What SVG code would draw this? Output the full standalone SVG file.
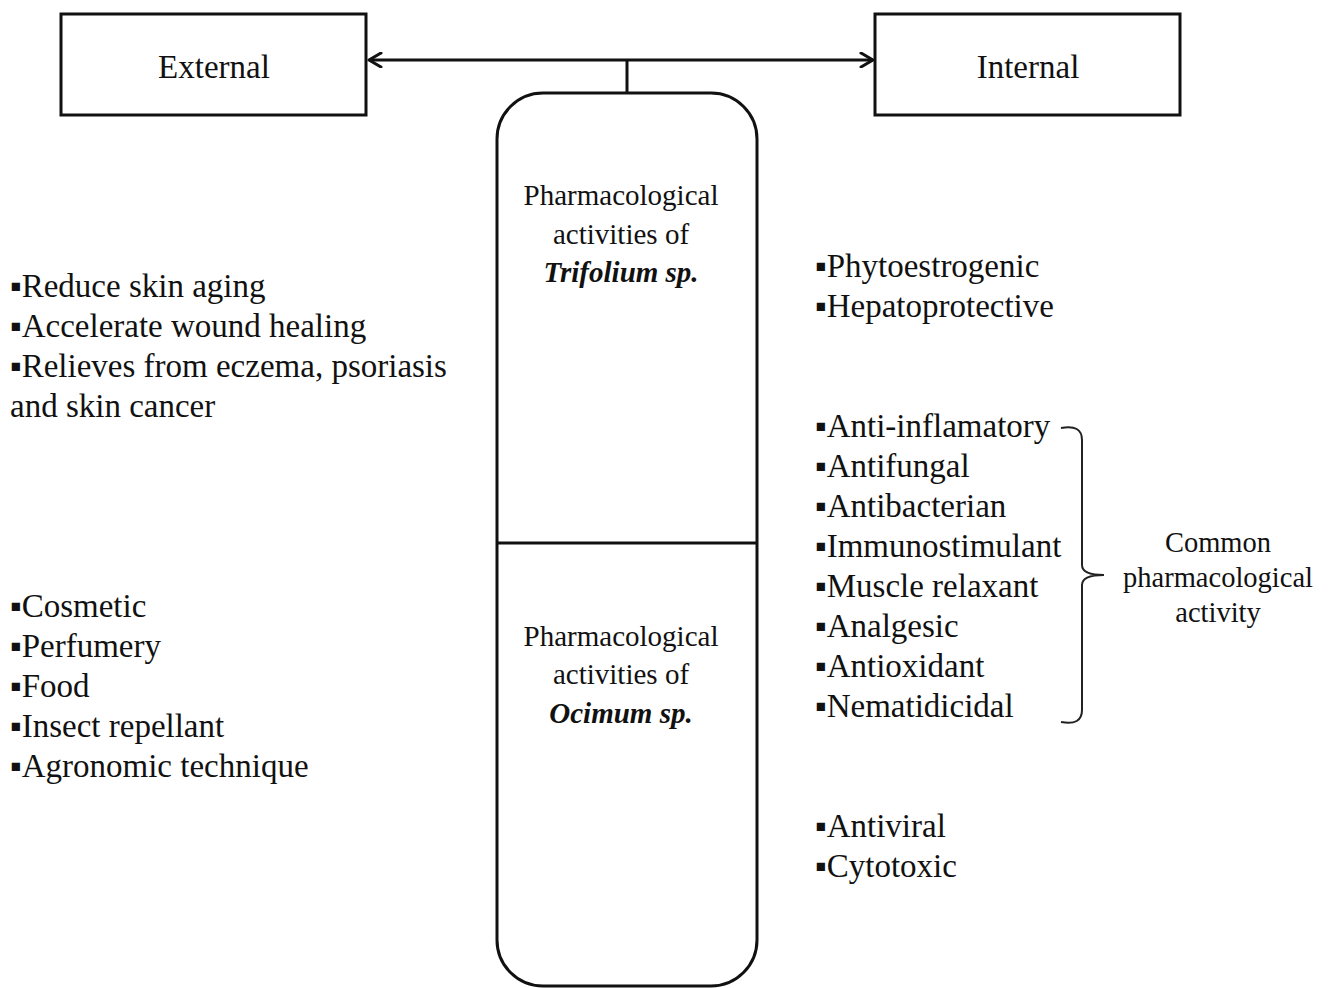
<svg xmlns="http://www.w3.org/2000/svg" width="1328" height="988" viewBox="0 0 1328 988">
<defs>
<style>
.t{font-family:"Liberation Serif","Times New Roman",serif;fill:#111;}
.box{fill:#fff;stroke:#111;stroke-width:3;}
.ln{fill:none;stroke:#111;stroke-width:3;}
.br{fill:none;stroke:#222;stroke-width:2;}
.item{font-size:33px;}
.ctr{font-size:29px;text-anchor:middle;}
.cmn{font-size:28.5px;text-anchor:middle;}
</style>
<marker id="arr" viewBox="0 0 16 16" refX="14" refY="8" markerWidth="16" markerHeight="16" markerUnits="userSpaceOnUse" orient="auto-start-reverse">
<path d="M2,1 L14,8 L2,15" fill="none" stroke="#111" stroke-width="3" stroke-linecap="round" stroke-linejoin="round"/>
</marker>
</defs>
<rect width="1328" height="988" fill="#fff"/>
<g id="connectors">
<line class="ln" x1="369" y1="60" x2="873" y2="60" marker-start="url(#arr)" marker-end="url(#arr)"/>
<line class="ln" x1="627" y1="60" x2="627" y2="94"/>
<path class="br" d="M1061,428 Q1082,424 1082,440 L1082,565 Q1082,575 1104,575 Q1082,575 1082,585 L1082,710 Q1082,726 1061,722"/>
</g>
<g id="external">
<rect class="box" x="61" y="14" width="305" height="101"/>
<text class="t" x="214" y="78" font-size="33" text-anchor="middle">External</text>
</g>
<g id="internal">
<rect class="box" x="875" y="14" width="305" height="101"/>
<text class="t" x="1028" y="78" font-size="33" text-anchor="middle">Internal</text>
</g>
<g id="capsule">
<rect class="box" x="497" y="93" width="260" height="893" rx="46" ry="46"/>
<line class="ln" x1="497" y1="543" x2="757" y2="543"/>
</g>
<g id="trifolium">
<text class="t ctr" x="621" y="205">Pharmacological</text>
<text class="t ctr" x="621" y="244">activities of</text>
<text class="t ctr" x="621" y="282" font-weight="bold" font-style="italic">Trifolium sp.</text>
</g>
<g id="ocimum">
<text class="t ctr" x="621" y="646">Pharmacological</text>
<text class="t ctr" x="621" y="684">activities of</text>
<text class="t ctr" x="621" y="723" font-weight="bold" font-style="italic">Ocimum sp.</text>
</g>
<g id="external-effects">
<text class="t item" x="10" y="297">▪Reduce skin aging</text>
<text class="t item" x="10" y="337">▪Accelerate wound healing</text>
<text class="t item" x="10" y="377">▪Relieves from eczema, psoriasis</text>
<text class="t item" x="10" y="417">and skin cancer</text>
</g>
<g id="external-uses">
<text class="t item" x="10" y="617">▪Cosmetic</text>
<text class="t item" x="10" y="657">▪Perfumery</text>
<text class="t item" x="10" y="697">▪Food</text>
<text class="t item" x="10" y="737">▪Insect repellant</text>
<text class="t item" x="10" y="777">▪Agronomic technique</text>
</g>
<g id="trifolium-internal">
<text class="t item" x="815" y="277">▪Phytoestrogenic</text>
<text class="t item" x="815" y="317">▪Hepatoprotective</text>
</g>
<g id="common-list">
<text class="t item" x="815" y="437">▪Anti-inflamatory</text>
<text class="t item" x="815" y="477">▪Antifungal</text>
<text class="t item" x="815" y="517">▪Antibacterian</text>
<text class="t item" x="815" y="557">▪Immunostimulant</text>
<text class="t item" x="815" y="597">▪Muscle relaxant</text>
<text class="t item" x="815" y="637">▪Analgesic</text>
<text class="t item" x="815" y="677">▪Antioxidant</text>
<text class="t item" x="815" y="717">▪Nematidicidal</text>
</g>
<g id="ocimum-internal">
<text class="t item" x="815" y="837">▪Antiviral</text>
<text class="t item" x="815" y="877">▪Cytotoxic</text>
</g>
<g id="common-label">
<text class="t cmn" x="1218" y="552">Common</text>
<text class="t cmn" x="1218" y="587">pharmacological</text>
<text class="t cmn" x="1218" y="622">activity</text>
</g>
</svg>
